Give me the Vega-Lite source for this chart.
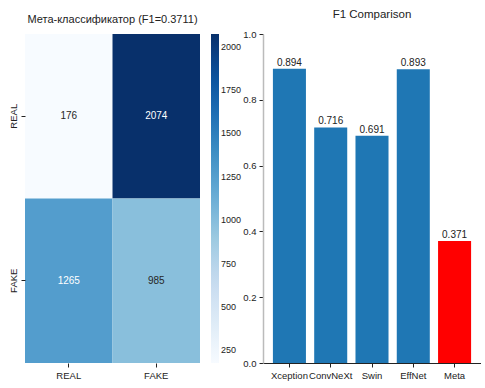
{
  "$schema": "https://vega.github.io/schema/vega-lite/v6.json",
  "padding": {"left": 8, "top": 8, "right": 0, "bottom": 4},
  "spacing": 0,
  "resolve": {"legend": {"color": "independent"}, "scale": {"color": "independent"}},
  "config": {
    "font": "Liberation Sans",
    "view": {"stroke": null},
    "axis": {"grid": false, "title": null, "labelFontSize": 9.5, "labelColor": "#222", "tickColor": "#222", "tickSize": 4, "labelPadding": 3},
    "legend": {"labelFontSize": 9, "labelColor": "#222", "padding": 0},
    "title": {"fontSize": 11.5, "fontWeight": "normal", "color": "#222", "offset": 9}
  },
  "datasets": {
    "cm": [
      {"actual": "REAL", "pred": "REAL", "count": 176},
      {"actual": "REAL", "pred": "FAKE", "count": 2074},
      {"actual": "FAKE", "pred": "REAL", "count": 1265},
      {"actual": "FAKE", "pred": "FAKE", "count": 985}
    ],
    "f1": [
      {"model": "Xception", "f1": 0.894},
      {"model": "ConvNeXt", "f1": 0.716},
      {"model": "Swin", "f1": 0.691},
      {"model": "EffNet", "f1": 0.893},
      {"model": "Meta", "f1": 0.371}
    ]
  },
  "hconcat": [
    {
      "width": 175,
      "height": 329,
      "title": {"text": "Мета-классификатор (F1=0.3711)", "fontSize": 11},
      "data": {"name": "cm"},
      "encoding": {
        "x": {"field": "pred", "type": "nominal", "sort": ["REAL", "FAKE"], "scale": {"paddingInner": 0, "paddingOuter": 0}, "axis": {"labelAngle": 0, "domain": false}},
        "y": {"field": "actual", "type": "nominal", "sort": ["REAL", "FAKE"], "scale": {"paddingInner": 0, "paddingOuter": 0}, "axis": {"labelAngle": -90, "domain": false, "labelAlign": "center", "labelBaseline": "bottom"}}
      },
      "layer": [
        {
          "mark": {"type": "rect"},
          "encoding": {
            "color": {
              "field": "count",
              "type": "quantitative",
              "scale": {
                "domain": [176, 413.25, 650.5, 887.75, 1125, 1362.25, 1599.5, 1836.75, 2074],
                "range": ["#f7fbff", "#deebf7", "#c6dbef", "#9ecae1", "#6baed6", "#4292c6", "#2171b5", "#08519c", "#08306b"]
              },
              "legend": {"title": null, "gradientLength": 329, "gradientThickness": 8, "values": [250, 500, 750, 1000, 1250, 1500, 1750, 2000], "format": "d", "offset": 11, "direction": "vertical", "gradientStrokeWidth": 0}
            }
          }
        },
        {
          "mark": {"type": "text", "fontSize": 10},
          "encoding": {
            "text": {"field": "count", "type": "quantitative"},
            "color": {"condition": {"test": "datum.count > 1100", "value": "#ffffff"}, "value": "#262626"}
          }
        }
      ]
    },
    {
      "width": 218,
      "height": 329,
      "title": "F1 Comparison",
      "data": {"name": "f1"},
      "encoding": {
        "x": {"field": "model", "type": "nominal", "sort": null, "scale": {"paddingInner": 0.2, "paddingOuter": 0.24}, "axis": {"labelAngle": 0, "domainColor": "#222"}},
        "y": {"field": "f1", "type": "quantitative", "scale": {"domain": [0, 1]}, "axis": {"values": [0, 0.2, 0.4, 0.6, 0.8, 1.0], "format": ".1f", "domainColor": "#bbbbbb", "domainWidth": 1.5}}
      },
      "layer": [
        {
          "mark": {"type": "bar"},
          "encoding": {
            "color": {"condition": {"test": "datum.model === 'Meta'", "value": "#ff0000"}, "value": "#1f77b4"}
          }
        },
        {
          "mark": {"type": "text", "dy": -6, "fontSize": 10, "color": "#222"},
          "encoding": {"text": {"field": "f1", "type": "quantitative", "format": ".3f"}}
        },
        {
          "data": {"values": [{}]},
          "mark": {"type": "rule", "color": "#555555", "strokeWidth": 1.2},
          "encoding": {"y": {"datum": 1}, "x": null}
        }
      ]
    }
  ]
}
